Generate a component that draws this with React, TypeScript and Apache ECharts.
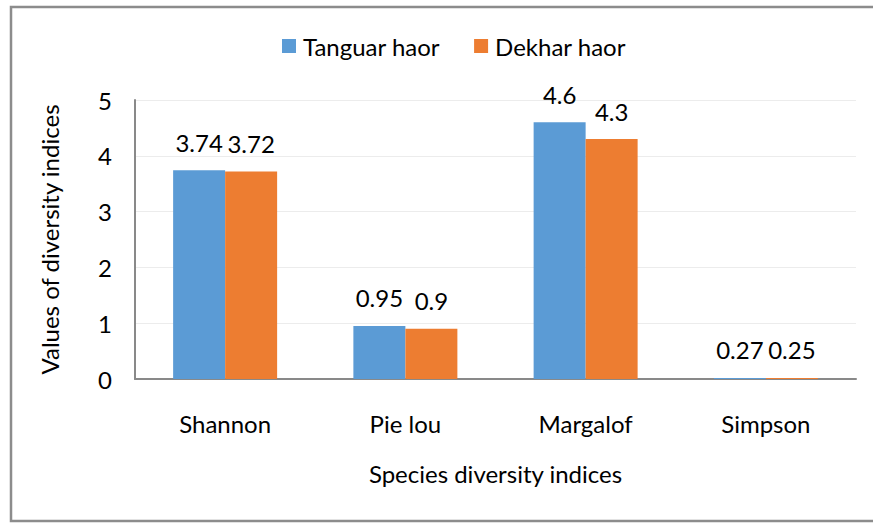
import React, { useEffect, useRef } from "react";
import * as echarts from "echarts";

const categories = ["Shannon", "Pie lou", "Margalof", "Simpson"];
const tanguarValues = [3.74, 0.95, 4.6, 0.02];
const dekharValues = [3.72, 0.9, 4.3, 0.02];
const tanguarLabels = ["3.74", "0.95", "4.6", "0.27"];
const dekharLabels = ["3.72", "0.9", "4.3", "0.25"];
const yTicks = [0, 1, 2, 3, 4, 5];

const FONT = "Lato";
const FS = 24;

export default function App() {
  const ref = useRef<HTMLDivElement>(null);
  useEffect(() => {
    document.body.style.margin = "0";
    const chart = echarts.init(ref.current!, null, { renderer: "svg" });
    chart.setOption({
      animation: false,
      backgroundColor: "#ffffff",
      textStyle: { fontFamily: FONT },
      graphic: [
        {
          type: "rect",
          shape: { x: 11, y: 7, width: 880, height: 514 },
          style: { fill: "none", stroke: "#8c8c8c", lineWidth: 2.5 },
          silent: true,
        },
      ],
      legend: {
        top: 29,
        left: 277,
        itemWidth: 14,
        itemHeight: 14,
        itemGap: 34,
        icon: "rect",
        textStyle: { fontFamily: FONT, fontSize: FS, color: "#000", padding: [0, 0, 0, 2] },
        data: ["Tanguar haor", "Dekhar haor"],
      },
      grid: { left: 135, right: 17, top: 100, bottom: 144 },
      xAxis: {
        type: "category",
        data: categories,
        name: "Species diversity indices",
        nameLocation: "middle",
        nameGap: 82,
        nameTextStyle: { fontFamily: FONT, fontSize: FS, color: "#000" },
        axisLine: { show: true, lineStyle: { color: "#898989", width: 2 } },
        axisTick: { show: false },
        axisLabel: { fontFamily: FONT, fontSize: FS, color: "#000", margin: 32 },
      },
      yAxis: {
        type: "value",
        min: yTicks[0],
        max: yTicks[yTicks.length - 1],
        interval: 1,
        name: "Values of diversity indices",
        nameLocation: "middle",
        nameGap: 74,
        nameTextStyle: { fontFamily: FONT, fontSize: FS, color: "#000" },
        axisLine: { show: true, lineStyle: { color: "#898989", width: 2 } },
        axisTick: { show: false },
        axisLabel: { fontFamily: FONT, fontSize: FS, color: "#000", margin: 23 },
        splitLine: { show: true, lineStyle: { color: "#ececec", width: 1 } },
      },
      series: [
        {
          name: "Tanguar haor",
          type: "bar",
          data: tanguarValues,
          barWidth: 52,
          barGap: "0%",
          itemStyle: { color: "#5b9bd5" },
          label: {
            show: true,
            position: "top",
            distance: 16,
            fontFamily: FONT,
            fontSize: FS,
            color: "#000",
            formatter: (p: any) => tanguarLabels[p.dataIndex],
          },
        },
        {
          name: "Dekhar haor",
          type: "bar",
          data: dekharValues,
          barWidth: 52,
          barGap: "0%",
          itemStyle: { color: "#ed7d31" },
          label: {
            show: true,
            position: "top",
            distance: 16,
            fontFamily: FONT,
            fontSize: FS,
            color: "#000",
            formatter: (p: any) => dekharLabels[p.dataIndex],
          },
        },
      ],
    });
    return () => chart.dispose();
  }, []);
  return <div ref={ref} style={{ width: 873, height: 523 }} />;
}
